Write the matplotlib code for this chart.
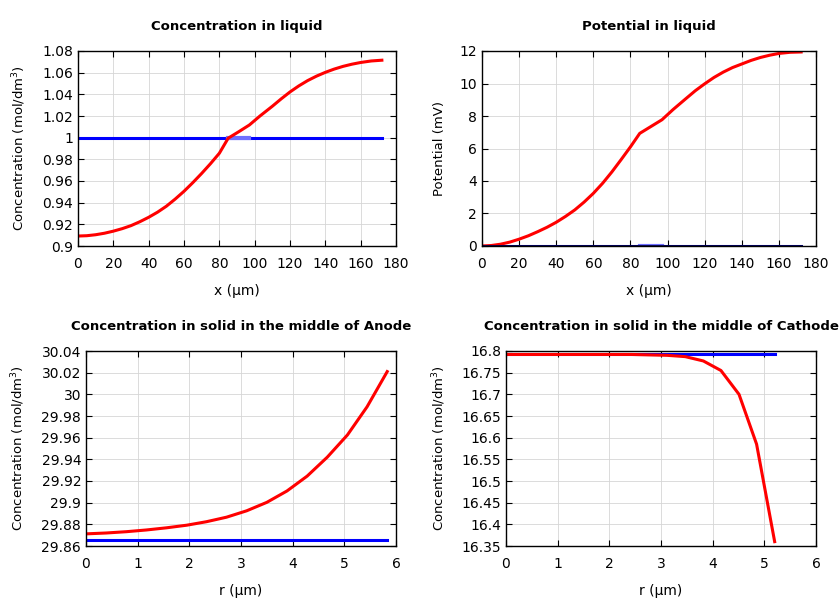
import matplotlib
matplotlib.use('Agg')
import matplotlib.pyplot as plt

# Concentration in liquid
x_liq = [0, 5, 10, 15, 20, 25, 30, 35, 40, 45, 50, 55, 60, 65, 70, 75, 80, 85,
         91, 97, 103, 110, 115, 120, 125, 130, 135, 140, 145, 150, 155, 160, 166, 172]
c_liq = [0.9092, 0.9095, 0.9104, 0.9118, 0.9137, 0.9160, 0.9188, 0.9224, 0.9265, 0.9312,
         0.9367, 0.9433, 0.9505, 0.9585, 0.9670, 0.9760, 0.9856, 0.9995,
         1.0055, 1.0117, 1.0200, 1.0290, 1.0358, 1.0422, 1.0478, 1.0527, 1.0568, 1.0603,
         1.0633, 1.0658, 1.0678, 1.0694, 1.0708, 1.0715]
c_liq0 = [1.0] * len(x_liq)

# Potential in liquid
phi_liq = [0.0, 0.03, 0.11, 0.24, 0.42, 0.63, 0.88, 1.15, 1.46, 1.82, 2.22, 2.70, 3.24,
           3.86, 4.56, 5.32, 6.10, 6.93,
           7.35, 7.77, 8.40, 9.08, 9.56, 9.98, 10.37, 10.70, 10.98, 11.20, 11.42, 11.60,
           11.74, 11.85, 11.92, 11.94]
phi_liq0 = [0.0] * len(x_liq)

# separator region (drawn faint)
x_sep = [85, 97]

# Solid concentration, anode
r_an = [0, 0.39, 0.78, 1.17, 1.56, 1.95, 2.33, 2.72, 3.11, 3.5, 3.89, 4.28, 4.67, 5.06, 5.44, 5.83]
c_an = [29.8712, 29.8720, 29.8732, 29.8748, 29.8768, 29.8792, 29.8824, 29.8866, 29.8925,
        29.9003, 29.9108, 29.9245, 29.9420, 29.9625, 29.9885, 30.0210]
c_an0 = [29.866] * len(r_an)

# Solid concentration, cathode
r_ca = [0, 0.35, 0.69, 1.04, 1.39, 1.73, 2.08, 2.43, 2.77, 3.12, 3.47, 3.82, 4.16, 4.51, 4.85, 5.2]
c_ca = [16.792, 16.792, 16.792, 16.792, 16.792, 16.792, 16.792, 16.792, 16.791, 16.790,
        16.787, 16.777, 16.755, 16.700, 16.585, 16.360]
c_ca0 = [16.793] * len(r_ca)

plt.rcParams['font.family'] = 'DejaVu Sans'
plt.rcParams['font.size'] = 10

fig = plt.figure(figsize=(8.4, 6), dpi=100)
W, H = 840, 600


def make_ax(l, r, t, b):
    ax = fig.add_axes([l / W, 1 - b / H, (r - l) / W, (b - t) / H])
    ax.grid(True, color='#d6d6d6', linewidth=0.6)
    ax.set_axisbelow(True)
    ax.tick_params(direction='in', top=True, right=True, length=4, labelsize=10)
    ax.tick_params(axis='x', pad=8)
    for s in ax.spines.values():
        s.set_linewidth(1.0)
    return ax


def labels(ax, xl, yl, title):
    ax.set_xlabel(xl, labelpad=9)
    ax.set_ylabel(yl, labelpad=10, fontsize=9.5)
    ax.set_title(title, fontweight='bold', fontsize=9.5, pad=15)


ax1 = make_ax(78, 396, 51, 246)
ax1.plot(x_liq, c_liq0, color='blue', lw=2.2)
ax1.plot(x_sep, [1.0, 1.0], color='#7070ff', lw=3.0)
ax1.plot(x_liq, c_liq, color='red', lw=2.2)
ax1.set_xlim(0, 180)
ax1.set_ylim(0.9, 1.08)
ax1.set_yticks([0.9, 0.92, 0.94, 0.96, 0.98, 1.0, 1.02, 1.04, 1.06, 1.08])
ax1.set_yticklabels(['0.9', '0.92', '0.94', '0.96', '0.98', '1', '1.02', '1.04', '1.06', '1.08'])
ax1.set_xticks(range(0, 181, 20))
labels(ax1, 'x (µm)', 'Concentration (mol/dm$^3$)', 'Concentration in liquid')

ax2 = make_ax(482, 816, 51, 246)
ax2.plot(x_liq, phi_liq0, color='blue', lw=2.2)
ax2.plot(x_sep, [0.0, 0.0], color='#7070ff', lw=3.0)
ax2.plot(x_liq, phi_liq, color='red', lw=2.2)
ax2.plot(x_liq, phi_liq0, color='#000050', lw=2.0)
ax2.set_xlim(0, 180)
ax2.set_ylim(0, 12)
ax2.set_xticks(range(0, 181, 20))
labels(ax2, 'x (µm)', 'Potential (mV)', 'Potential in liquid')

ax3 = make_ax(86, 396, 351, 546)
ax3.plot(r_an, c_an0, color='blue', lw=2.2)
ax3.plot(r_an, c_an, color='red', lw=2.2)
ax3.set_xlim(0, 6)
ax3.set_ylim(29.86, 30.04)
yt = [29.86, 29.88, 29.9, 29.92, 29.94, 29.96, 29.98, 30.0, 30.02, 30.04]
ax3.set_yticks(yt)
ax3.set_yticklabels(['29.86', '29.88', '29.9', '29.92', '29.94', '29.96', '29.98', '30', '30.02', '30.04'])
labels(ax3, 'r (µm)', 'Concentration (mol/dm$^3$)', 'Concentration in solid in the middle of Anode')

ax4 = make_ax(506, 816, 351, 546)
ax4.plot(r_ca, c_ca0, color='blue', lw=2.2)
ax4.plot(r_ca, c_ca, color='red', lw=2.2)
ax4.set_xlim(0, 6)
ax4.set_ylim(16.35, 16.8)
yt = [16.35, 16.4, 16.45, 16.5, 16.55, 16.6, 16.65, 16.7, 16.75, 16.8]
ax4.set_yticks(yt)
ax4.set_yticklabels(['16.35', '16.4', '16.45', '16.5', '16.55', '16.6', '16.65', '16.7', '16.75', '16.8'])
labels(ax4, 'r (µm)', 'Concentration (mol/dm$^3$)', 'Concentration in solid in the middle of Cathode')

fig.savefig('out.png', dpi=100)
